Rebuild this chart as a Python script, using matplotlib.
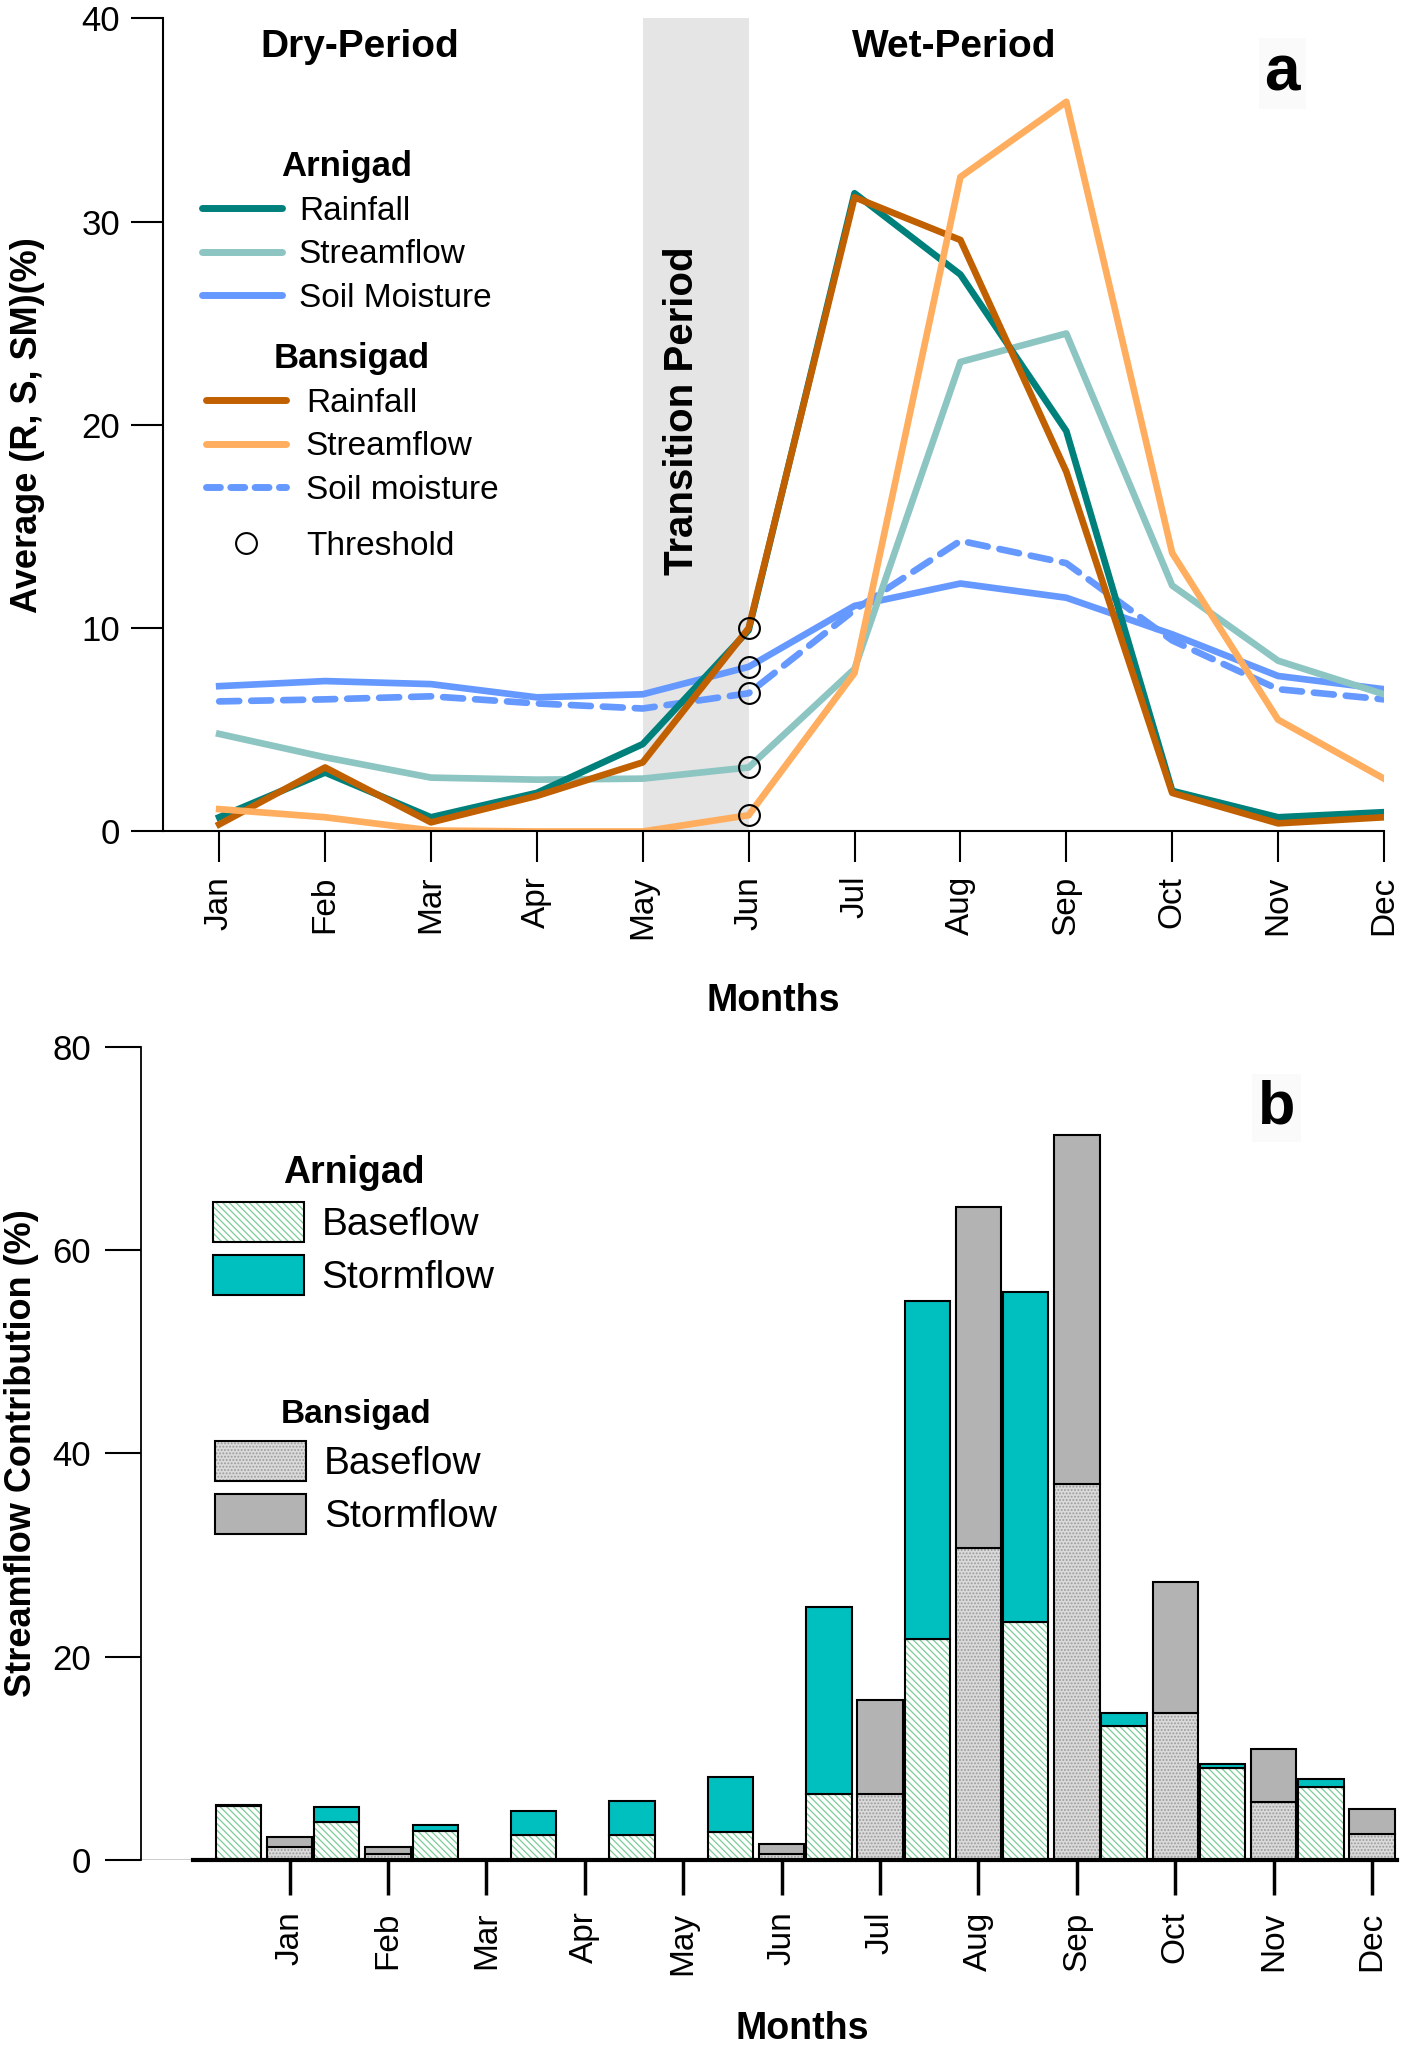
import numpy as np
import matplotlib
matplotlib.use('Agg')
import matplotlib.pyplot as plt
from matplotlib.lines import Line2D
from matplotlib.patches import Patch

months = ['Jan', 'Feb', 'Mar', 'Apr', 'May', 'Jun',
          'Jul', 'Aug', 'Sep', 'Oct', 'Nov', 'Dec']

# panel a: monthly averages (%)
rain_a = [0.7, 2.9, 0.7, 1.9, 4.3, 9.9, 31.4, 27.4, 19.7, 2.0, 0.7, 0.95]
stream_a = [4.8, 3.65, 2.65, 2.55, 2.6, 3.15, 8.0, 23.1, 24.5, 12.1, 8.4, 6.75]
sm_a = [7.15, 7.4, 7.25, 6.6, 6.75, 8.1, 11.1, 12.2, 11.5, 9.7, 7.65, 7.0]
rain_b = [0.35, 3.15, 0.45, 1.75, 3.4, 10.0, 31.2, 29.1, 17.7, 1.9, 0.4, 0.7]
stream_b = [1.1, 0.7, 0.05, 0.0, 0.0, 0.8, 7.8, 32.2, 35.9, 13.7, 5.5, 2.6]
sm_b = [6.4, 6.5, 6.65, 6.3, 6.05, 6.8, 10.9, 14.3, 13.2, 9.4, 7.0, 6.5]
thr_month = 5  # Jun

# panel b: streamflow contribution (%)
arn_base = [5.3, 3.7, 2.9, 2.5, 2.5, 2.8, 6.5, 21.7, 23.4, 13.2, 9.0, 7.2]
arn_storm = [0.1, 1.55, 0.55, 2.35, 3.35, 5.4, 18.4, 33.25, 32.5, 1.3, 0.4, 0.8]
ban_base = [1.3, 0.55, 0, 0, 0, 0.55, 6.5, 30.7, 37.0, 14.5, 5.75, 2.6]
ban_storm = [0.95, 0.75, 0, 0, 0, 1.05, 9.2, 33.5, 34.3, 12.8, 5.15, 2.45]

c_rain_a = '#00807b'
c_stream_a = '#8cc5c2'
c_sm = '#6699ff'
c_rain_b = '#c06000'
c_stream_b = '#ffae5f'
c_storm_a = '#00bfbf'
c_hatch_a = '#7ccc98'
c_storm_b = '#b3b3b3'
c_base_b = '#dadada'

plt.rcParams['font.family'] = ['Liberation Sans', 'DejaVu Sans']
plt.rcParams['hatch.linewidth'] = 0.9

fig = plt.figure(figsize=(14.18, 20.48), dpi=100)

# ---------------- panel a ----------------
ax1 = fig.add_axes([0.115, 0.594, 0.861, 0.397])
x = np.arange(12)
ax1.axvspan(4, 5, color='#e5e5e5', zorder=0, lw=0)
lw = 4.8
ax1.plot(x, sm_a, color=c_sm, lw=lw)
ax1.plot(x, sm_b, color=c_sm, lw=lw, ls=(0, (3, 1.8)), dash_capstyle='round')
ax1.plot(x, stream_a, color=c_stream_a, lw=lw)
ax1.plot(x, rain_a, color=c_rain_a, lw=lw)
ax1.plot(x, rain_b, color=c_rain_b, lw=lw)
ax1.plot(x, stream_b, color=c_stream_b, lw=lw)
thr = [rain_b[thr_month], sm_a[thr_month], sm_b[thr_month],
       stream_a[thr_month], stream_b[thr_month]]
ax1.plot([thr_month] * len(thr), thr, 'o', ms=15, mfc='none', mec='black', mew=1.5, zorder=5)

ax1.set_xlim(-0.53, 11)
ax1.set_ylim(0, 40)
ax1.set_yticks([0, 10, 20, 30, 40])
ax1.set_xticks(x)
ax1.set_xticklabels(months, rotation=90, fontsize=24)
for t in ax1.get_yticklabels():
    t.set_fontsize(25)
ax1.tick_params(axis='x', length=22, width=1.5, pad=10)
ax1.tick_params(axis='y', length=23, width=1.5, pad=8)
for s in ['top', 'right']:
    ax1.spines[s].set_visible(False)
for s in ['left', 'bottom']:
    ax1.spines[s].set_linewidth(1.5)
ax1.set_xlabel('Months', fontsize=27, fontweight='bold')
ax1.xaxis.set_label_coords(0.5, -0.186)
ax1.set_ylabel('Average (R, S, SM)(%)', fontsize=26, fontweight='bold')
ax1.yaxis.set_label_coords(-0.097, 0.5)

ax1.text(1.33, 38.6, 'Dry-Period', fontsize=28, fontweight='bold', ha='center', va='center')
ax1.text(6.94, 38.6, 'Wet-Period', fontsize=28, fontweight='bold', ha='center', va='center')
ax1.text(4.37, 20.7, 'Transition Period', fontsize=29, fontweight='bold', rotation=90,
         ha='center', va='center')
ax1.text(10.04, 37.3, 'a', fontsize=46, fontweight='bold', ha='center', va='center',
         bbox=dict(facecolor='#fafafa', edgecolor='none', pad=4))

leg_kw = dict(loc='upper left', frameon=False, borderaxespad=0, borderpad=0,
              handlelength=2.4, labelspacing=0.38, prop={'size': 24},
              title_fontproperties={'weight': 'bold', 'size': 25})
h_a = [Line2D([], [], color=c_rain_a, lw=5, solid_capstyle='round'),
       Line2D([], [], color=c_stream_a, lw=5, solid_capstyle='round'),
       Line2D([], [], color=c_sm, lw=5, solid_capstyle='round')]
leg1 = ax1.legend(h_a, ['Rainfall', 'Streamflow', 'Soil Moisture'], title='Arnigad',
                  bbox_to_anchor=(0.032, 0.838), handletextpad=0.5, **leg_kw)
ax1.add_artist(leg1)
h_b = [Line2D([], [], color=c_rain_b, lw=5, solid_capstyle='round'),
       Line2D([], [], color=c_stream_b, lw=5, solid_capstyle='round'),
       Line2D([], [], color=c_sm, lw=5, ls=(0, (2, 1.5)), dash_capstyle='round')]
leg2 = ax1.legend(h_b, ['Rainfall', 'Streamflow', 'Soil moisture'],
                  title='Bansigad', bbox_to_anchor=(0.035, 0.602),
                  handletextpad=0.6, **leg_kw)
ax1.add_artist(leg2)
h_t = [Line2D([], [], ls='none', marker='o', ms=15, mfc='none', mec='black', mew=1.5)]
ax1.legend(h_t, ['Threshold'], bbox_to_anchor=(0.035, 0.37), handletextpad=0.6,
           loc='upper left', frameon=False, borderaxespad=0, borderpad=0,
           handlelength=2.4, prop={'size': 24})

# ---------------- panel b ----------------
ax2 = fig.add_axes([0.0994, 0.0918, 0.8856, 0.3972])
w = 0.46
xa = x - 0.52
xb = x
elw = 1.5
ax2.bar(xa, arn_base, w, color='white', edgecolor=c_hatch_a, hatch='\\\\\\\\\\', lw=0)
ax2.bar(xa, arn_base, w, facecolor='none', edgecolor='black', lw=elw)
ax2.bar(xa, arn_storm, w, bottom=arn_base, color=c_storm_a, edgecolor='black', lw=elw)
ax2.bar(xb, ban_base, w, color=c_base_b, edgecolor='#9a9a9a', hatch='.....', lw=0)
ax2.bar(xb, ban_base, w, facecolor='none', edgecolor='black', lw=elw)
ax2.bar(xb, ban_storm, w, bottom=ban_base, color=c_storm_b, edgecolor='black', lw=elw)

ax2.set_xlim(-1.51, 11.25)
ax2.set_ylim(0, 80)
ax2.set_yticks([0, 20, 40, 60, 80])
ax2.set_xticks(x)
ax2.set_xticklabels(months, rotation=90, fontsize=24)
for t in ax2.get_yticklabels():
    t.set_fontsize(25)
ax2.tick_params(axis='x', length=25, width=2.5, pad=12)
ax2.tick_params(axis='y', length=26, width=1.5, pad=10)
for s in ['top', 'right']:
    ax2.spines[s].set_visible(False)
ax2.spines['left'].set_linewidth(1.3)
ax2.spines['bottom'].set_linewidth(3)
ax2.spines['bottom'].set_bounds(-0.98, 11.25)
ax2.axhline(0, color='black', lw=1, zorder=0)
ax2.set_xlabel('Months', fontsize=27, fontweight='bold')
ax2.xaxis.set_label_coords(0.527, -0.186)
ax2.set_ylabel('Streamflow Contribution (%)', fontsize=26, fontweight='bold')
ax2.yaxis.set_label_coords(-0.081, 0.5)
ax2.text(10.03, 74, 'b', fontsize=44, fontweight='bold', ha='center', va='center',
         bbox=dict(facecolor='#fafafa', edgecolor='none', pad=4))

h_pa = [(Patch(facecolor='white', edgecolor=c_hatch_a, hatch='\\\\\\\\\\', lw=0),
         Patch(facecolor='none', edgecolor='black', lw=elw)),
        Patch(facecolor=c_storm_a, edgecolor='black', lw=elw)]
leg3 = ax2.legend(h_pa, ['Baseflow', 'Stormflow'], title='Arnigad', loc='upper left',
                  bbox_to_anchor=(0.057, 0.867), frameon=False, borderaxespad=0,
                  borderpad=0, handlelength=2.35, handleheight=1.2, handletextpad=0.45,
                  labelspacing=0.3, prop={'size': 28},
                  title_fontproperties={'weight': 'bold', 'size': 27})
ax2.add_artist(leg3)
h_pb = [(Patch(facecolor=c_base_b, edgecolor='#9a9a9a', hatch='.....', lw=0),
         Patch(facecolor='none', edgecolor='black', lw=elw)),
        Patch(facecolor=c_storm_b, edgecolor='black', lw=elw)]
ax2.legend(h_pb, ['Baseflow', 'Stormflow'], title='Bansigad', loc='upper left',
           bbox_to_anchor=(0.059, 0.567), frameon=False, borderaxespad=0,
           borderpad=0, handlelength=2.35, handleheight=1.2, handletextpad=0.45,
           labelspacing=0.3, prop={'size': 28},
           title_fontproperties={'weight': 'bold', 'size': 24})

fig.savefig('out.png', dpi=100)
